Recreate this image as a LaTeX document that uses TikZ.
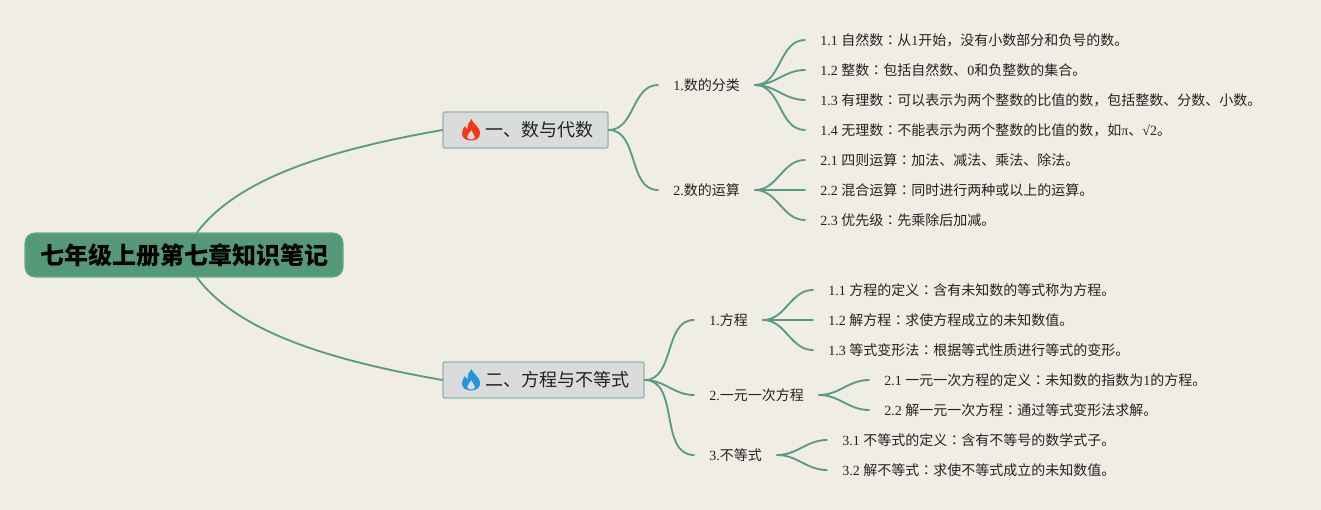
\documentclass[tikz,border=0pt]{standalone}
\usepackage{fontspec}
\setmainfont{Liberation Serif}
\newfontfamily\cjk{Noto Sans CJK SC}
\newfontfamily\cjktc{Noto Sans CJK TC}
\newcommand{\zh}[1]{{\cjk #1}}
\newcommand{\zhcolon}{{\cjktc ：}}
\definecolor{paper}{HTML}{F0EEE4}
\definecolor{rootfill}{HTML}{549A78}
\definecolor{topicfill}{HTML}{D9DCDB}
\definecolor{topicline}{HTML}{8DB9AA}
\definecolor{linkline}{HTML}{5C9A88}
\definecolor{flamered}{HTML}{F5361A}
\definecolor{flameblue}{HTML}{2196E0}
\definecolor{inktext}{HTML}{222222}
\tikzset{
	rootnode/.style={rectangle, rounded corners=7.5pt, fill=rootfill, draw=rootfill!85!white, line width=0.8pt, minimum width=238.5pt, minimum height=33pt, inner sep=0pt, font=\cjk\bfseries\fontsize{18}{20}\selectfont, text=black},
	topicnode/.style={rectangle, rounded corners=1.5pt, fill=topicfill, draw=topicline, line width=1pt, minimum height=27pt, inner sep=0pt, font=\cjk\fontsize{13.5}{16}\selectfont, text=inktext},
	subnode/.style={anchor=west, inner xsep=11.25pt, inner ysep=1pt, font=\fontsize{10.5}{12}\selectfont, text=inktext},
	leafnode/.style={subnode},
	link/.style={draw=linkline, line width=1.4pt, line cap=round},
	flame/.pic={
		\fill[#1, even odd rule] (0.5,-11) .. controls (1.5,-6) and (9,-4) .. (9,3.5) .. controls (9,8) and (5,10.5) .. (0,10.5) .. controls (-5,10.5) and (-9,8) .. (-9,3.5) .. controls (-9,0.5) and (-7.5,-2) .. (-6,-4) .. controls (-5.5,-2.5) and (-5,-1.5) .. (-3.5,-1) .. controls (-3.5,-5) and (-2,-8.5) .. (0.5,-11)
		(0.3,0) .. controls (0.5,2.5) and (4,4) .. (4,7) .. controls (4,8.5) and (2.5,9.5) .. (0,9.5) .. controls (-2.5,9.5) and (-4,8.5) .. (-4,7) .. controls (-4,4) and (-0.5,3) .. (0.3,0);
	}
}
\begin{document}
\begin{tikzpicture}[x=0.75pt, y=-0.75pt]
	\fill[paper] (0,0) rectangle (1321,510);
	\useasboundingbox (0,0) rectangle (1321,510);

	\node[rootnode] (root) at (184,255) {七年级上册第七章知识笔记};
	\node[topicnode, minimum width=123.75pt] (topicA) at (525.5,130) {\hspace*{21pt}一、数与代数};
	\node[topicnode, minimum width=150.75pt] (topicB) at (543.5,380) {\hspace*{21pt}二、方程与不等式};
	\pic at (471,130) {flame=flamered};
	\pic at (471,380) {flame=flameblue};

	\node[subnode] (subA) at (658,85) {1.\zh{数的分类}};
	\node[subnode] (subB) at (658,190) {2.\zh{数的运算}};
	\node[subnode] (subC) at (694,320) {1.\zh{方程}};
	\node[subnode] (subD) at (694,395) {2.\zh{一元一次方程}};
	\node[subnode] (subE) at (694,455) {3.\zh{不等式}};

	\node[leafnode] (a1) at (805,40) {1.1 \zh{自然数}\zhcolon\zh{从}1\zh{开始，没有小数部分和负号的数。}};
	\node[leafnode] (a2) at (805,70) {1.2 \zh{整数}\zhcolon\zh{包括自然数、}0\zh{和负整数的集合。}};
	\node[leafnode] (a3) at (805,100) {1.3 \zh{有理数}\zhcolon\zh{可以表示为两个整数的比值的数，包括整数、分数、小数。}};
	\node[leafnode] (a4) at (805,130) {1.4 \zh{无理数}\zhcolon\zh{不能表示为两个整数的比值的数，如}π\zh{、}√2\zh{。}};
	\node[leafnode] (b1) at (805,160) {2.1 \zh{四则运算}\zhcolon\zh{加法、减法、乘法、除法。}};
	\node[leafnode] (b2) at (805,190) {2.2 \zh{混合运算}\zhcolon\zh{同时进行两种或以上的运算。}};
	\node[leafnode] (b3) at (805,220) {2.3 \zh{优先级}\zhcolon\zh{先乘除后加减。}};
	\node[leafnode] (c1) at (813,290) {1.1 \zh{方程的定义}\zhcolon\zh{含有未知数的等式称为方程。}};
	\node[leafnode] (c2) at (813,320) {1.2 \zh{解方程}\zhcolon\zh{求使方程成立的未知数值。}};
	\node[leafnode] (c3) at (813,350) {1.3 \zh{等式变形法}\zhcolon\zh{根据等式性质进行等式的变形。}};
	\node[leafnode] (d1) at (869,380) {2.1 \zh{一元一次方程的定义}\zhcolon\zh{未知数的指数为}1\zh{的方程。}};
	\node[leafnode] (d2) at (869,410) {2.2 \zh{解一元一次方程}\zhcolon\zh{通过等式变形法求解。}};
	\node[leafnode] (e1) at (827,440) {3.1 \zh{不等式的定义}\zhcolon\zh{含有不等号的数学式子。}};
	\node[leafnode] (e2) at (827,470) {3.2 \zh{解不等式}\zhcolon\zh{求使不等式成立的未知数值。}};

	\draw[link] ([xshift=9.75pt]root.north) .. controls (240,175) and (340,148) .. (topicA.west);
	\draw[link] ([xshift=9.75pt]root.south) .. controls (240,335) and (340,362) .. (topicB.west);

	\foreach \from/\to in {topicA/subA, topicA/subB, topicB/subC, topicB/subD, topicB/subE,
		subA/a1, subA/a2, subA/a3, subA/a4, subB/b1, subB/b2, subB/b3,
		subC/c1, subC/c2, subC/c3, subD/d1, subD/d2, subE/e1, subE/e2}
		\draw[link] (\from.east) to[out=0, in=180] (\to.west);
\end{tikzpicture}
\end{document}
